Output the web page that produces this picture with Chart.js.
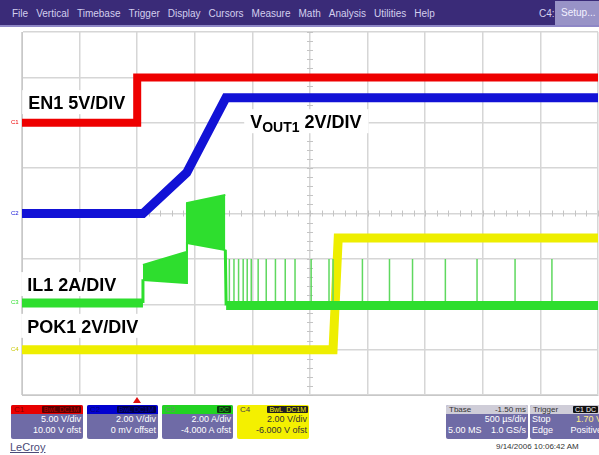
<!DOCTYPE html>
<html>
<head>
<meta charset="utf-8">
<script src="https://cdn.jsdelivr.net/npm/chart.js@4.4.1/dist/chart.umd.min.js"></script>
<style>
  body { margin: 0; width: 599px; height: 455px; overflow: hidden; background: #fff;
         font-family: Arial, "Liberation Sans", sans-serif; position: relative; }
  #menu { position: absolute; left: 0; top: 0; width: 599px; height: 25px; background: #3a2b78;
          border-bottom: 2px solid #8e87c6; }
  #menu .items { position: absolute; left: 12px; top: 8px; display: flex; gap: 8px;
                 font-size: 10px; color: #d3cfee; }
  #menu .c4 { position: absolute; left: 539px; top: 8px; font-size: 10px; color: #d3cfee; }
  #menu .setup { position: absolute; left: 555px; top: 1px; width: 44px; height: 24px;
                 background: #9893c7; color: #f2f0ff; font-size: 10px; line-height: 24px; padding-left: 6px;
                 box-sizing: border-box; }
  #wrap { position: absolute; left: 0; top: 27px; width: 599px; height: 370px; }
  .box { position: absolute; top: 405px; height: 34px; background: #6f6ba6; border-radius: 2px;
         font-size: 9px; color: #fff; overflow: hidden; }
  .box .hd { height: 9px; line-height: 9px; font-size: 8px; position: relative; padding-left: 3px; }
  .box .tag { position: absolute; top: 1px; height: 7px; line-height: 7px; font-size: 7px;
              padding: 0 2px; border-radius: 1px; }
  .box .ln { height: 11px; line-height: 11px; text-align: right; padding-right: 2px; }
  .box .row { display: flex; justify-content: space-between; height: 11px; line-height: 11px; padding: 0 2px; }
  #brand { position: absolute; left: 10px; top: 441px; font-size: 11px; color: #4b4a78;
           text-decoration: underline; }
  #stamp { position: absolute; left: 496px; top: 442px; font-size: 8px; color: #333; }
  #trig { position: absolute; left: 133px; top: 397px; width: 0; height: 0;
          border-left: 4px solid transparent; border-right: 4px solid transparent; border-bottom: 6px solid #e01010; }
</style>
</head>
<body>
<div id="menu">
  <div class="items">
    <span>File</span><span>Vertical</span><span>Timebase</span><span>Trigger</span><span>Display</span>
    <span>Cursors</span><span>Measure</span><span>Math</span><span>Analysis</span><span>Utilities</span><span>Help</span>
  </div>
  <span class="c4">C4:</span>
  <div class="setup">Setup...</div>
</div>

<div id="wrap"><canvas id="scope"></canvas></div>

<div id="trig"></div>

<div class="box" style="left:11px;width:72px">
  <div class="hd" style="background:#e80000;color:#8a0000">C1<span class="tag" style="right:2px;background:#5a0000;color:#c00000">BwL DC1M</span></div>
  <div class="ln">5.00 V/div</div>
  <div class="ln">10.00 V ofst</div>
</div>
<div class="box" style="left:87px;width:71px">
  <div class="hd" style="background:#0000d0;color:#00007a">C2<span class="tag" style="right:2px;background:#00004a;color:#0000b0">BwL DC1M</span></div>
  <div class="ln">2.00 V/div</div>
  <div class="ln">0 mV offset</div>
</div>
<div class="box" style="left:162px;width:71px">
  <div class="hd" style="background:#22d322;color:#6a8a6a">C3<span class="tag" style="right:2px;background:#0c3a0c;color:#22c022">DC</span></div>
  <div class="ln">2.00 A/div</div>
  <div class="ln">-4.000 A ofst</div>
</div>
<div class="box" style="left:237px;width:72px;background:#f4f000;color:#333">
  <div class="hd" style="color:#444">C4<span class="tag" style="right:24px;background:#222;color:#f4f000">BwL</span><span class="tag" style="right:1px;background:#222;color:#f4f000">DC1M</span></div>
  <div class="ln">2.00 V/div</div>
  <div class="ln">-6.000 V ofst</div>
</div>

<div class="box" style="left:446px;width:82px">
  <div class="hd" style="background:#cfcdd8;color:#333;display:flex;justify-content:space-between;padding-right:2px">
    <span>Tbase</span><span>-1.50 ms</span></div>
  <div class="ln">500 µs/div</div>
  <div class="row"><span>5.00 MS</span><span>1.0 GS/s</span></div>
</div>
<div class="box" style="left:530px;width:74px">
  <div class="hd" style="background:#cfcdd8;color:#333">Trigger<span class="tag" style="right:6px;background:#111;color:#fff">C1 DC</span></div>
  <div class="row"><span>Stop</span><span style="color:#ffee88">1.70 V</span></div>
  <div class="row"><span>Edge</span><span>Positive</span></div>
</div>

<div id="brand">LeCroy</div>
<div id="stamp">9/14/2006 10:06:42 AM</div>

<script>
// time axis in ms, trigger at 0 ms, 500 us/div, 10 divisions
const TIME_MIN = -1.0, TIME_MAX = 4.0;

// C1  EN1 (V), 5 V/div, +10 V offset
const en1Time  = [-1.0, 0.0, 0.0, 4.0];
const en1Volts = [0, 0, 5.0, 5.0];

// C2  VOUT1 (V), 2 V/div, 0 V offset
const voutTime  = [-1.0, 0.05, 0.43, 0.77, 4.0];
const voutVolts = [0, 0, 1.8, 5.1, 5.1];

// C3  IL1 (A), 2 A/div, -4 A offset -- idle baseline before and after soft start
const ilTime = [-1.0, 0.05, 0.05, 0.772, 4.0];
const ilAmps = [0.05, 0.05, null, -0.05, -0.05];

// steps into and out of the switching envelope
const ilEdgeTime = [0.05, 0.05, 0.05, 0.765, 0.772];
const ilEdgeAmps = [0.05, 1.1, null, 2.4, -0.05];

// switching envelope of IL1 during soft start
const ilBandTime = [0.05, 0.425, 0.432, 0.765];
const ilBandHigh = [1.73, 2.30, 4.46, 4.82];
const ilBandLow  = [1.07, 0.94, 2.70, 2.39];

// light-load pulses after VOUT1 is up
const ilSpikeTime = [0.80, 0.84, 0.88, 0.92, 0.955, 0.99, 1.05, 1.12, 1.20, 1.285, 1.37,
                     1.51, 1.665, 1.70, 1.955, 2.19, 2.39, 2.675, 2.95, 3.28, 3.60];
const ilSpikeTop  = [2.0, 2.0, 2.0, 2.0, 2.0, 2.0, 2.0, 2.0, 2.0, 2.0, 2.0,
                     2.0, 2.0, 2.0, 2.0, 2.0, 2.0, 2.0, 2.0, 2.0, 2.0];

// C4  POK1 (V), 2 V/div, -6 V offset
const pokTime  = [-1.0, 1.70, 1.745, 4.0];
const pokVolts = [0, 0, 4.92, 4.92];

// screen divisions = (value + offset) / scale
const toDiv = (scale, offset) => v => (v === null ? null : (v + offset) / scale);
const pts = (ts, vs, conv) => ts.map((t, i) => ({ x: t, y: conv(vs[i]) }));

const c1 = toDiv(5, 10), c2 = toDiv(2, 0), c3 = toDiv(2, -4), c4 = toDiv(2, -6);

const spikePts = [];
ilSpikeTime.forEach((t, i) => {
  spikePts.push({ x: t, y: c3(-0.05) }, { x: t, y: c3(ilSpikeTop[i]) }, { x: t, y: null });
});

const RED = '#ee0000', BLUE = '#1212d6', GREEN = '#2ede2e', YELLOW = '#eeee00';

const labels = [
  { t: -0.946, d: 2.30, parts: [{ text: 'EN1 5V/DIV', size: 18 }] },
  { t: 0.981, d: 1.88, parts: [{ text: 'V', size: 18 }, { text: 'OUT1', size: 14, dy: 4 }, { text: ' 2V/DIV', size: 18 }] },
  { t: -0.955, d: -1.71, parts: [{ text: 'IL1 2A/DIV', size: 18 }] },
  { t: -0.955, d: -2.63, parts: [{ text: 'POK1 2V/DIV', size: 18 }] }
];

const markers = [
  { text: 'C1', d: 2, color: RED },
  { text: 'C2', d: 0, color: BLUE },
  { text: 'C3', d: -1.95, color: GREEN },
  { text: 'C4', d: -3, color: '#c8c800' }
];

const scopeOverlay = {
  id: 'scopeOverlay',
  beforeDatasetsDraw(chart) {
    const { ctx, chartArea: a, scales: { x, y } } = chart;
    ctx.save();
    // minor ticks along the center cross
    ctx.strokeStyle = '#c4c4c4';
    ctx.lineWidth = 1;
    const cx = x.getPixelForValue(1.5), cy = y.getPixelForValue(0);
    ctx.beginPath();
    for (let t = TIME_MIN; t <= TIME_MAX + 1e-9; t += 0.1) {
      const px = Math.round(x.getPixelForValue(t)) + 0.5;
      ctx.moveTo(px, cy - 3); ctx.lineTo(px, cy + 3);
    }
    for (let d = -4; d <= 4 + 1e-9; d += 0.2) {
      const py = Math.round(y.getPixelForValue(d)) + 0.5;
      ctx.moveTo(cx - 3, py); ctx.lineTo(cx + 3, py);
    }
    ctx.stroke();

    // trace labels on white tags
    ctx.textBaseline = 'alphabetic';
    labels.forEach(l => {
      const px = x.getPixelForValue(l.t), py = y.getPixelForValue(l.d);
      let w = 0;
      l.parts.forEach(p => {
        ctx.font = `bold ${p.size}px Arial, "Liberation Sans", sans-serif`;
        p.w = ctx.measureText(p.text).width;
        w += p.w;
      });
      ctx.fillStyle = '#fff';
      ctx.fillRect(px - 6, py - 19, w + 13, 24);
      ctx.fillStyle = '#000';
      let cxp = px;
      l.parts.forEach(p => {
        ctx.font = `bold ${p.size}px Arial, "Liberation Sans", sans-serif`;
        ctx.fillText(p.text, cxp, py + (p.dy || 0));
        cxp += p.w;
      });
    });

    // channel ground markers at the left edge
    ctx.font = '6px Arial, "Liberation Sans", sans-serif';
    ctx.textBaseline = 'middle';
    markers.forEach(m => {
      ctx.fillStyle = m.color;
      ctx.fillText(m.text, a.left - 11, y.getPixelForValue(m.d));
    });
    ctx.restore();
  }
};

new Chart(document.getElementById('scope'), {
  type: 'line',
  data: {
    datasets: [
      { label: 'EN1', data: pts(en1Time, en1Volts, c1), borderColor: RED, borderWidth: 8 },
      { label: 'VOUT1', data: pts(voutTime, voutVolts, c2), borderColor: BLUE, borderWidth: 9 },
      { label: 'IL1 high', data: pts(ilBandTime, ilBandHigh, c3), borderColor: GREEN, borderWidth: 2,
        backgroundColor: GREEN, fill: '+1' },
      { label: 'IL1 low', data: pts(ilBandTime, ilBandLow, c3), borderColor: GREEN, borderWidth: 2 },
      { label: 'IL1 edges', data: pts(ilEdgeTime, ilEdgeAmps, c3), borderColor: GREEN, borderWidth: 3, spanGaps: false },
      { label: 'IL1', data: pts(ilTime, ilAmps, c3), borderColor: GREEN, borderWidth: 9, spanGaps: false },
      { label: 'IL1 pulses', data: spikePts, borderColor: '#5fd85f', borderWidth: 1.5, spanGaps: false },
      { label: 'POK1', data: pts(pokTime, pokVolts, c4), borderColor: YELLOW, borderWidth: 9 }
    ]
  },
  options: {
    responsive: true,
    maintainAspectRatio: false,
    animation: false,
    layout: { padding: { left: 22, right: 1, top: 5, bottom: 2 } },
    elements: { point: { radius: 0 }, line: { tension: 0, borderCapStyle: 'butt', borderJoinStyle: 'miter' } },
    plugins: { legend: { display: false }, tooltip: { enabled: false } },
    scales: {
      x: {
        type: 'linear', min: TIME_MIN, max: TIME_MAX,
        ticks: { display: false, stepSize: 0.5 },
        grid: { color: '#d6d6d6', lineWidth: 1.5, drawTicks: false },
        border: { display: true, color: '#c8c8c8' }
      },
      y: {
        min: -4, max: 4,
        ticks: { display: false, stepSize: 1 },
        grid: { color: '#d6d6d6', lineWidth: 1.5, drawTicks: false },
        border: { display: true, color: '#c8c8c8' }
      }
    }
  },
  plugins: [scopeOverlay]
});
</script>
</body>
</html>
